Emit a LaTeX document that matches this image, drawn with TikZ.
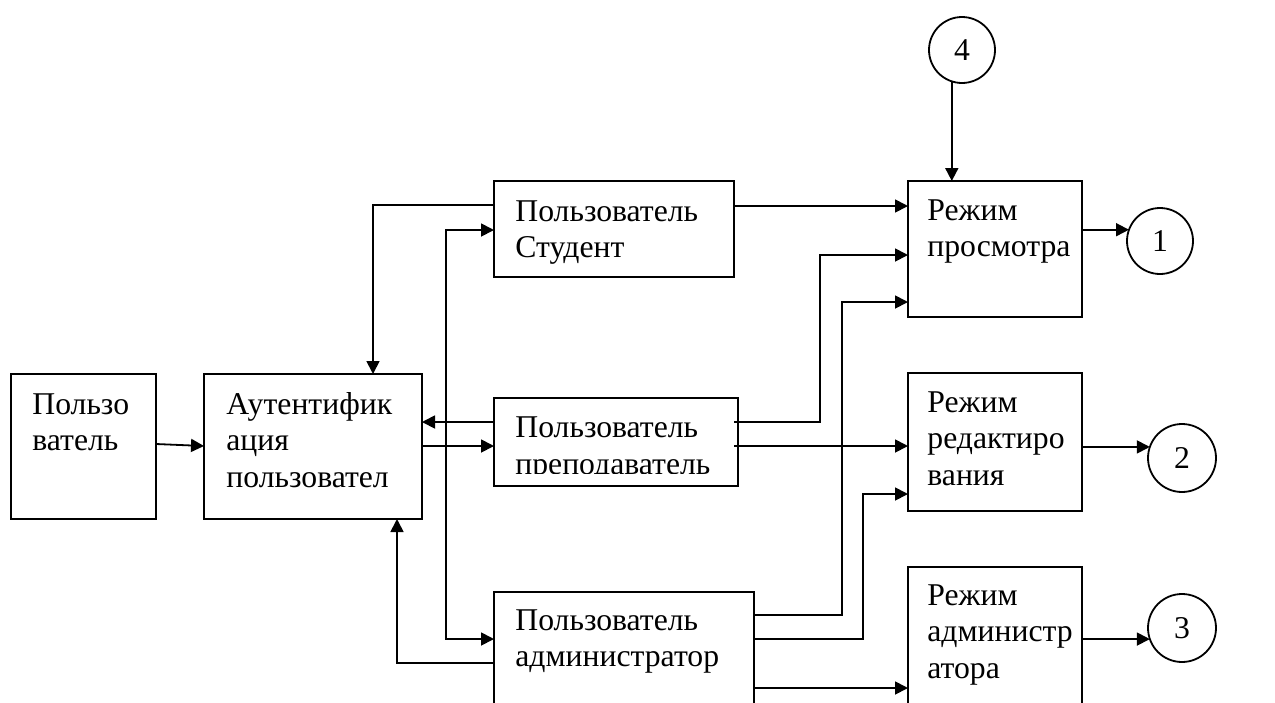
\documentclass[tikz,border=0pt]{standalone}
\usepackage{fontspec}
\setmainfont{Liberation Serif}
\usetikzlibrary{arrows.meta,calc}
\begin{document}
\begin{tikzpicture}[x=0.5pt,y=-0.5pt,
  >={Triangle[length=6.5pt,width=6.5pt]},
  box/.style={draw, line width=0.9pt, anchor=north west, inner sep=0pt, outer sep=0pt},
  % multi-line labels are placed by the baseline of their last line
  lbl/.style={anchor=base west, align=left, inner sep=0pt,
    font=\fontsize{15.85pt}{18.25pt}\selectfont},
  term/.style={draw, circle, line width=0.9pt, inner sep=0pt, outer sep=0pt,
    font=\fontsize{15.85pt}{18.25pt}\selectfont},
  wire/.style={line width=0.9pt}]
\useasboundingbox (0,0) rectangle (1275,702);
\clip (0,0) rectangle (1275,702);

% blocks
\node[box, minimum width=72.5pt, minimum height=72.5pt] (user) at (11,374) {};
\node[box, minimum width=109pt, minimum height=72.5pt] (auth) at (204,374) {};
\node[box, minimum width=120pt, minimum height=48pt] (stud) at (494,181) {};
\node[box, minimum width=122pt, minimum height=44pt] (prep) at (494,398) {};
\node[box, minimum width=130pt, minimum height=70pt] (adm) at (494,592) {};
\node[box, minimum width=87pt, minimum height=68pt] (view) at (908,181) {};
\node[box, minimum width=87pt, minimum height=69pt] (edit) at (908,373) {};
\node[box, minimum width=87pt, minimum height=80pt] (amode) at (908,567) {};

% block texts
\node[lbl] (user-t) at (32,450.5) {Пользо\\ватель};
\node[lbl] (auth-t) at (226,487) {Аутентифик\\ация\\пользовател};
\node[lbl] (stud-t) at (515,257.5) {Пользователь\\Студент};
\begin{scope}
  \clip (prep.north west) rectangle ($(prep.north east)+(0,75)$);
  \node[lbl] (prep-t) at (515,474) {Пользователь\\преподаватель};
\end{scope}
\node[lbl] (adm-t) at (515,666.5) {Пользователь\\администратор};
\node[lbl] (view-t) at (927,256.5) {Режим\\просмотра};
\node[lbl] (edit-t) at (927,485) {Режим\\редактиро\\вания};
\node[lbl] (amode-t) at (927,678) {Режим\\администр\\атора};

% off-page connectors
\node[term, minimum size=33pt] (c4) at (962,50) {4};
\node[term, minimum size=33pt] (c1) at (1160,241) {1};
\node[term, minimum size=34pt] (c2) at (1182,458) {2};
\node[term, minimum size=34pt] (c3) at (1182,628) {3};

% links
\draw[wire,->] ($(user.north east)+(0,70)$) -- ($(auth.north west)+(0,72)$);
\draw[wire,->] ($(stud.north west)+(0,24)$) -| ($(auth.north west)+(169,0)$);
\draw[wire,<->] ($(stud.north west)+(0,49)$) -| ($(adm.north west)+(-48,0)$)
  |- ($(adm.north west)+(0,47)$);
\draw[wire,->] ($(prep.north west)+(0,24)$) -- ($(auth.north east)+(0,48)$);
\draw[wire,->] ($(auth.north east)+(0,72)$) -- ($(prep.north west)+(0,48)$);
\draw[wire,->] ($(adm.north west)+(0,71)$) -| ($(auth.south west)+(193,0)$);

\draw[wire,->] ($(stud.north east)+(0,25)$) -- ($(view.north west)+(0,25)$);
\draw[wire,->] ($(prep.north east)+(-4,24)$) -| ($(view.north west)+(-88,74)$)
  -- ($(view.north west)+(0,74)$);
\draw[wire,->] ($(prep.north east)+(-4,48)$) -- ($(edit.north west)+(0,73)$);
\draw[wire,->] ($(adm.north east)+(0,23)$) -| ($(view.north west)+(-66,121)$)
  -- ($(view.north west)+(0,121)$);
\draw[wire,->] ($(adm.north east)+(0,47)$) -| ($(edit.north west)+(-45,121)$)
  -- ($(edit.north west)+(0,121)$);
\draw[wire,->] ($(adm.north east)+(0,96)$) -- ($(amode.north west)+(0,121)$);

\draw[wire,->] (c4.252) -- (c4.252 |- view.north);
\draw[wire,->] (view.east |- c1.160) -- (c1.160);
\draw[wire,->] (edit.east |- c2.161) -- (c2.161);
\draw[wire,->] (amode.east |- c3.199) -- (c3.199);
\end{tikzpicture}
\end{document}
